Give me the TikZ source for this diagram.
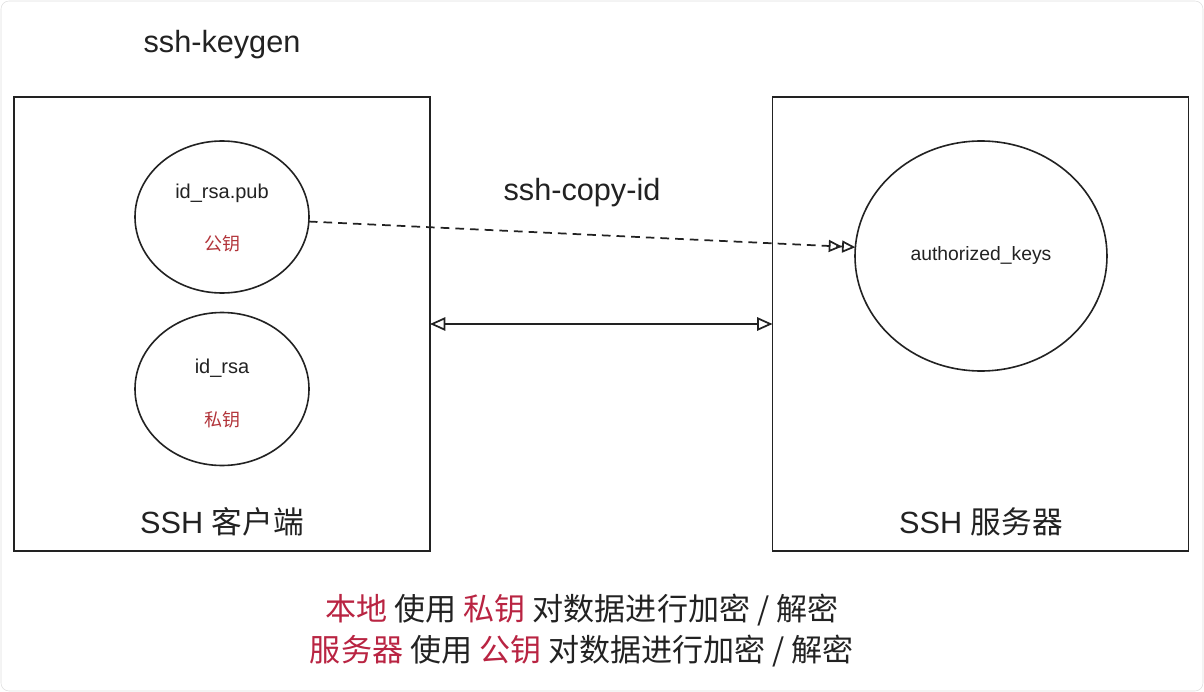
\documentclass[tikz,border=0pt]{standalone}
\usepackage{fontspec}
\setmainfont{Liberation Sans}
\newfontfamily\cjk{Noto Sans CJK SC}
\usetikzlibrary{shapes.geometric,arrows.meta}
\definecolor{keyred}{RGB}{178,52,58}
\definecolor{hired}{RGB}{185,36,66}
\definecolor{ink}{RGB}{34,34,34}
\tikzset{
  box/.style={draw=ink,line width=1.2pt,rectangle,minimum width=312pt,minimum height=340.5pt,inner sep=0,outer sep=0},
  keyell/.style={draw=ink,line width=1.2pt,ellipse,inner sep=0,outer sep=0},
  big/.style={text=ink,font=\fontsize{23}{27}\selectfont},
  small/.style={text=ink,font=\fontsize{15}{18}\selectfont},
  keylbl/.style={text=keyred,font=\cjk\fontsize{13.5}{16}\selectfont},
  foot/.style={text=ink,font=\cjk\fontsize{23.3}{28}\selectfont},
  conn/.style={draw=ink,line width=1.3pt}
}
\begin{document}
\begin{tikzpicture}[x=0.75pt,y=-0.75pt]
\useasboundingbox (0,0) rectangle (1204,692);
\draw[gray!25,fill=white,rounded corners=6pt] (1,1) rectangle (1203,691);
% boxes
\node[box] (lbox) at (222,324) {};
\node[box] (rbox) at (980.5,324) {};
% ellipses
\node[keyell,minimum width=130.5pt,minimum height=114pt] (pub) at (222,217) {};
\node[keyell,minimum width=130.5pt,minimum height=114.75pt] (priv) at (222,389) {};
\node[keyell,minimum width=189pt,minimum height=172.5pt] (keys) at (981,256) {};
% labels
\node[big] (keygen) at (222,45) {ssh-keygen};
\node[big] (copyid) at (582,193) {ssh-copy-id};
\node[small] (pubname) at (222,193) {id\_rsa.pub};
\node[keylbl] (pubcn) at (222,244) {公钥};
\node[small] (privname) at (222,368) {id\_rsa};
\node[keylbl] (privcn) at (222,420) {私钥};
\node[small,font=\fontsize{14.5}{17}\selectfont] (keysname) at (981,256) {authorized\_keys};
\node[big] (client) at (222,522) {SSH {\cjk 客户端}};
\node[big] (server) at (981,522) {SSH {\cjk 服务器}};
% connectors
\draw[conn,dash pattern=on 6.5pt off 4.5pt,-{Triangle[open,length=10pt,width=9pt]Triangle[open,length=10pt,width=9pt]}] (pub.-3) -- (keys.176);
\draw[conn,{Triangle[open,length=11.5pt,width=10pt]}-{Triangle[open,length=11.5pt,width=10pt]}] (lbox.east) -- (rbox.west);
% footer
\node[foot] (line1) at (582,610) {\textcolor{hired}{本地} 使用 \textcolor{hired}{私钥} 对数据进行加密 / 解密};
\node[foot] (line2) at (582,651) {\textcolor{hired}{服务器} 使用 \textcolor{hired}{公钥} 对数据进行加密 / 解密};
\end{tikzpicture}
\end{document}
